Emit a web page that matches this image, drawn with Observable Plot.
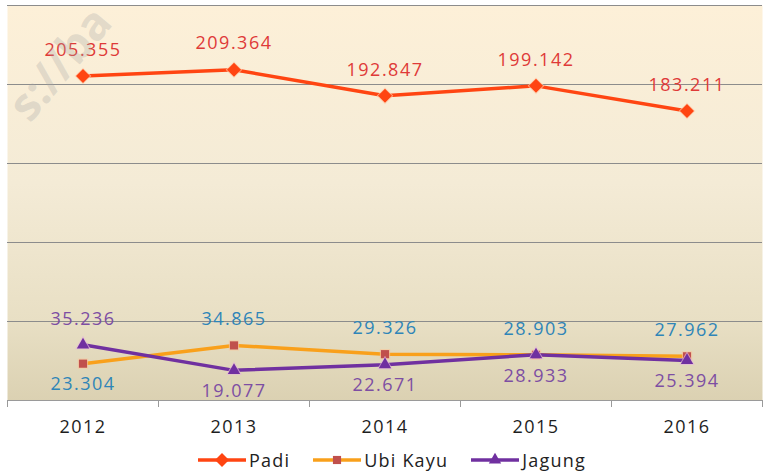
<!DOCTYPE html>
<html>
<head>
<meta charset="utf-8">
<script src="https://cdn.jsdelivr.net/npm/d3@7"></script>
<script src="https://cdn.jsdelivr.net/npm/@observablehq/plot@0.6"></script>
<style>
  html, body { margin: 0; padding: 0; background: #fff; }
  body { width: 763px; height: 475px; overflow: hidden; position: relative; font-family: "Open Sans", sans-serif; }
  #chart svg text { letter-spacing: 1.5px; }
  #legend { position: absolute; left: 0; top: 445px; width: 763px; height: 30px; display: flex; justify-content: center; align-items: center; gap: 22px; padding-left: 20px; box-sizing: border-box; font-size: 18px; color: #222; letter-spacing: 1.2px; }
  .item { display: flex; align-items: center; gap: 2px; }
  #wm { position: absolute; left: 0; top: 0; width: 170px; height: 170px; pointer-events: none; overflow: visible; }
  #wm text { font-family: "Open Sans", sans-serif; font-weight: bold; font-size: 46px; fill: rgba(165,165,165,0.3); }
</style>
</head>
<body>
<div id="chart"></div>
<div id="legend"></div>
<svg id="wm" viewBox="0 0 170 170"><text x="30" y="124" transform="rotate(-50 30 124)">s://ba</text></svg>
<script>
const years = [2012, 2013, 2014, 2015, 2016];
const padi = [205.355, 209.364, 192.847, 199.142, 183.211];
const ubiKayu = [23.304, 34.865, 29.326, 28.903, 27.962];
const jagung = [35.236, 19.077, 22.671, 28.933, 25.394];
const yTicks = [0, 50, 100, 150, 200, 250];
const seriesNames = ["Padi", "Ubi Kayu", "Jagung"];
const padiLabelPos = ["above", "above", "above", "above", "above"];
const ubiLabelPos = ["below", "above", "above", "above", "above"];
const jagungLabelPos = ["above", "below", "below", "below", "below"];

const style = {
  "Padi": {line: "#ff4512", marker: "#ff4512", halo: "#ffc9a6", symbol: "diamond2", r: 6.3, label: "#df3a38"},
  "Ubi Kayu": {line: "#f9a01b", marker: "#c0504d", halo: "#f7c9a0", symbol: "square", r: 4.6, label: "#2f85b8"},
  "Jagung": {line: "#7030a0", marker: "#7030a0", halo: "#e6b8d8", symbol: "triangle", r: 4.6, label: "#7d4ea3"}
};

const fmt = v => v.toFixed(3);
function rows(name, vals, pos) {
  return years.map((yr, i) => ({series: name, year: yr, value: vals[i], pos: pos[i]}));
}
const data = [
  ...rows("Padi", padi, padiLabelPos),
  ...rows("Ubi Kayu", ubiKayu, ubiLabelPos),
  ...rows("Jagung", jagung, jagungLabelPos)
];
const boundaries = years.map(y => y - 0.5).concat([years[years.length - 1] + 0.5]);

const defs = () => {
  const g = d3.create("svg:defs");
  const lg = g.append("linearGradient").attr("id", "bg").attr("x1", 0).attr("y1", 0).attr("x2", 0).attr("y2", 1);
  [[0, "#fdf0d8"], [0.45, "#f4ebd6"], [0.8, "#e8dfc4"], [1, "#dbd1b2"]].forEach(([o, c]) =>
    lg.append("stop").attr("offset", o).attr("stop-color", c));
  return g.node();
};

const marks = [
  defs,
  Plot.frame({fill: "url(#bg)", stroke: null}),
  Plot.gridY(yTicks, {stroke: "#8c8c8c", strokeOpacity: 1, strokeWidth: 1}),
  Plot.axisX(boundaries, {tickSize: 7, tickFormat: () => "", stroke: "#9a9a9a", label: null}),
  Plot.ruleY([0], {stroke: "#9a9a9a"}),
  Plot.text(years, {x: d => d, text: d => String(d), frameAnchor: "bottom", dy: 27, fontSize: 18, fill: "#1e1e1e", lineAnchor: "middle"})
];

for (const name of seriesNames) {
  const s = style[name];
  const d = data.filter(r => r.series === name);
  marks.push(Plot.line(d, {x: "year", y: "value", stroke: s.line, strokeWidth: 3.5}));
  marks.push(Plot.dot(d, {x: "year", y: "value", symbol: s.symbol, r: s.r + 1.2, fill: s.halo, fillOpacity: 0.7, stroke: "none"}));
  marks.push(Plot.dot(d, {x: "year", y: "value", symbol: s.symbol, r: s.r, fill: s.marker, stroke: "none"}));
}
for (const name of seriesNames) {
  const s = style[name];
  const d = data.filter(r => r.series === name);
  marks.push(Plot.text(d.filter(r => r.pos === "above"), {x: "year", y: "value", text: r => fmt(r.value), dy: -26, fill: s.label, fontSize: 18, lineAnchor: "middle"}));
  marks.push(Plot.text(d.filter(r => r.pos === "below"), {x: "year", y: "value", text: r => fmt(r.value), dy: 21, fill: s.label, fontSize: 18, lineAnchor: "middle"}));
}

const chart = Plot.plot({
  width: 763,
  height: 445,
  marginLeft: 7,
  marginRight: 1,
  marginTop: 5,
  marginBottom: 45,
  style: {fontFamily: "'Open Sans', sans-serif", background: "transparent"},
  x: {domain: [boundaries[0], boundaries[boundaries.length - 1]], axis: null},
  y: {domain: [yTicks[0], yTicks[yTicks.length - 1]], axis: null},
  marks
});
document.getElementById("chart").appendChild(chart);

// Legend
const legend = d3.select("#legend");
for (const name of seriesNames) {
  const s = style[name];
  const item = legend.append("div").attr("class", "item");
  const sv = item.append("svg").attr("width", 50).attr("height", 16);
  sv.append("line").attr("x1", 1).attr("x2", 49).attr("y1", 8).attr("y2", 8).attr("stroke", s.line).attr("stroke-width", 3.5);
  const sym = {diamond2: d3.symbolDiamond2, square: d3.symbolSquare, triangle: d3.symbolTriangle}[s.symbol];
  sv.append("path").attr("transform", "translate(25,8)").attr("d", d3.symbol(sym, Math.PI * s.r * s.r)()).attr("fill", s.marker);
  item.append("span").text(name);
}
</script>
</body>
</html>
